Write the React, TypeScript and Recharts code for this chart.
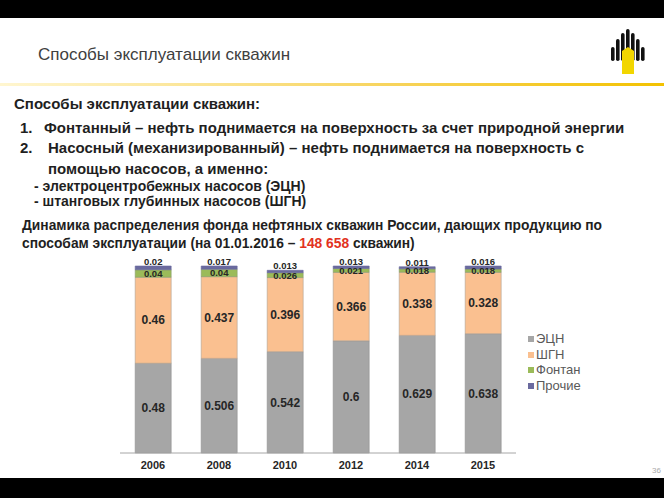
import { BarChart, Bar, XAxis, YAxis, LabelList } from "recharts";

const years = ["2006", "2008", "2010", "2012", "2014", "2015"];
const ecn = [0.48, 0.506, 0.542, 0.6, 0.629, 0.638];
const shgn = [0.46, 0.437, 0.396, 0.366, 0.338, 0.328];
const fontan = [0.04, 0.04, 0.026, 0.021, 0.018, 0.018];
const other = [0.02, 0.017, 0.013, 0.013, 0.011, 0.016];

const seriesNames = ["ЭЦН", "ШГН", "Фонтан", "Прочие"];
const seriesColors = ["#a6a6a6", "#fac090", "#9bbb59", "#6a6a9e"];

const data = years.map((y, i) => ({
  year: y,
  ecn: ecn[i],
  shgn: shgn[i],
  fontan: fontan[i],
  other: other[i],
}));

const FONT = "'Liberation Sans', Arial, sans-serif";
const TXT = "#1f1f1f";

const line = (top: number, left: number, size: number, text: React.ReactNode, weight = 700) => (
  <div
    style={{
      position: "absolute",
      top,
      left,
      fontSize: size,
      fontWeight: weight,
      color: TXT,
      whiteSpace: "nowrap",
      lineHeight: 1,
    }}
  >
    {text}
  </div>
);

function Logo() {
  // rough Rosneft mark: black flames + yellow column
  const bars = [
    { x: 0, h: 20 },
    { x: 5, h: 28 },
    { x: 10, h: 34 },
    { x: 15, h: 38 },
    { x: 20, h: 34 },
    { x: 25, h: 28 },
    { x: 30, h: 20 },
  ];
  return (
    <svg width={36} height={48} style={{ position: "absolute", left: 610, top: 27 }}>
      {bars.map((b, i) => (
        <rect key={i} x={b.x + 1} y={40 - b.h} width={3.6} height={b.h - 6} rx={1.8} fill="#111" />
      ))}
      <path d="M12 24 L18 20 L24 24 L24 47 L12 47 Z" fill="#f2d600" />
    </svg>
  );
}

export default function App() {
  return (
    <div
      style={{
        position: "absolute",
        left: 0,
        top: 0,
        width: 664,
        height: 498,
        background: "#fff",
        fontFamily: FONT,
        overflow: "hidden",
      }}
    >
      <div style={{ position: "absolute", left: 0, top: 0, width: 664, height: 18, background: "#000" }} />
      <div style={{ position: "absolute", left: 0, top: 478, width: 664, height: 20, background: "#000" }} />

      <div
        style={{
          position: "absolute",
          left: 38,
          top: 46,
          fontSize: 17,
          color: "#404040",
          whiteSpace: "nowrap",
          lineHeight: 1,
        }}
      >
        Способы эксплуатации скважин
      </div>
      <Logo />
      <div
        style={{
          position: "absolute",
          left: 0,
          top: 83,
          width: 664,
          height: 3,
          background: "linear-gradient(to right, #fff6d0, #f7d35a 60%, #f3c200)",
        }}
      />

      {line(96, 14, 15, "Способы эксплуатации скважин:")}
      {line(120, 20, 15, "1.")}
      {line(120, 44, 15, "Фонтанный – нефть поднимается на поверхность за счет природной энергии")}
      {line(140, 20, 15, "2.")}
      {line(140, 48, 15, "Насосный (механизированный) – нефть поднимается на поверхность с")}
      {line(161, 48, 15, "помощью насосов, а именно:")}
      {line(179, 34, 14, "- электроцентробежных насосов (ЭЦН)")}
      {line(194, 34, 14, "- штанговых глубинных насосов (ШГН)")}
      {line(219, 22, 13.8, "Динамика распределения фонда нефтяных скважин России, дающих продукцию по")}
      {line(
        237,
        22,
        13.8,
        <>
          способам эксплуатации (на 01.01.2016 – <span style={{ color: "#e2321e" }}>148 658</span> скважин)
        </>
      )}

      <div style={{ position: "absolute", left: 0, top: 0 }}>
        <BarChart
          width={664}
          height={498}
          data={data}
          margin={{ top: 266, right: 148, bottom: 20, left: 120 }}
          barCategoryGap="23%"
        >
          <YAxis hide width={0} domain={[0, 1]} />
          <XAxis
            dataKey="year"
            height={25}
            tickLine={false}
            axisLine={{ stroke: "#a6a6a6" }}
            tick={{ fill: "#262626", fontSize: 11, fontWeight: 700, fontFamily: FONT }}
          />
          <Bar dataKey="ecn" name={seriesNames[0]} stackId="a" fill={seriesColors[0]} stroke="#8f8f8f" strokeWidth={0.6} isAnimationActive={false}>
            <LabelList dataKey="ecn" position="center" fill="#262626" fontSize={12} fontWeight={700} />
          </Bar>
          <Bar dataKey="shgn" name={seriesNames[1]} stackId="a" fill={seriesColors[1]} stroke="#b0a090" strokeWidth={0.6} isAnimationActive={false}>
            <LabelList dataKey="shgn" position="center" fill="#262626" fontSize={12} fontWeight={700} />
          </Bar>
          <Bar dataKey="fontan" name={seriesNames[2]} stackId="a" fill={seriesColors[2]} stroke="#8a9a70" strokeWidth={0.6} isAnimationActive={false}>
            <LabelList dataKey="fontan" position="center" fill="#262626" fontSize={9.5} fontWeight={700} />
          </Bar>
          <Bar dataKey="other" name={seriesNames[3]} stackId="a" fill={seriesColors[3]} stroke={seriesColors[3]} strokeWidth={0.6} isAnimationActive={false}>
            <LabelList dataKey="other" position="top" offset={1} fill="#262626" fontSize={9.5} fontWeight={700} />
          </Bar>
        </BarChart>
      </div>

      {/* legend, same order as the reference (top to bottom) */}
      <div style={{ position: "absolute", left: 528, top: 331, fontSize: 13, lineHeight: "15.7px", color: "#595959" }}>
        {seriesNames.map((n, i) => (
          <div key={n} style={{ display: "flex", alignItems: "center", whiteSpace: "nowrap" }}>
            <span style={{ width: 6, height: 6, background: seriesColors[i], marginRight: 2, display: "inline-block" }} />
            {n}
          </div>
        ))}
      </div>

      <div style={{ position: "absolute", left: 652, top: 466, fontSize: 8, color: "#aaa" }}>36</div>
    </div>
  );
}
